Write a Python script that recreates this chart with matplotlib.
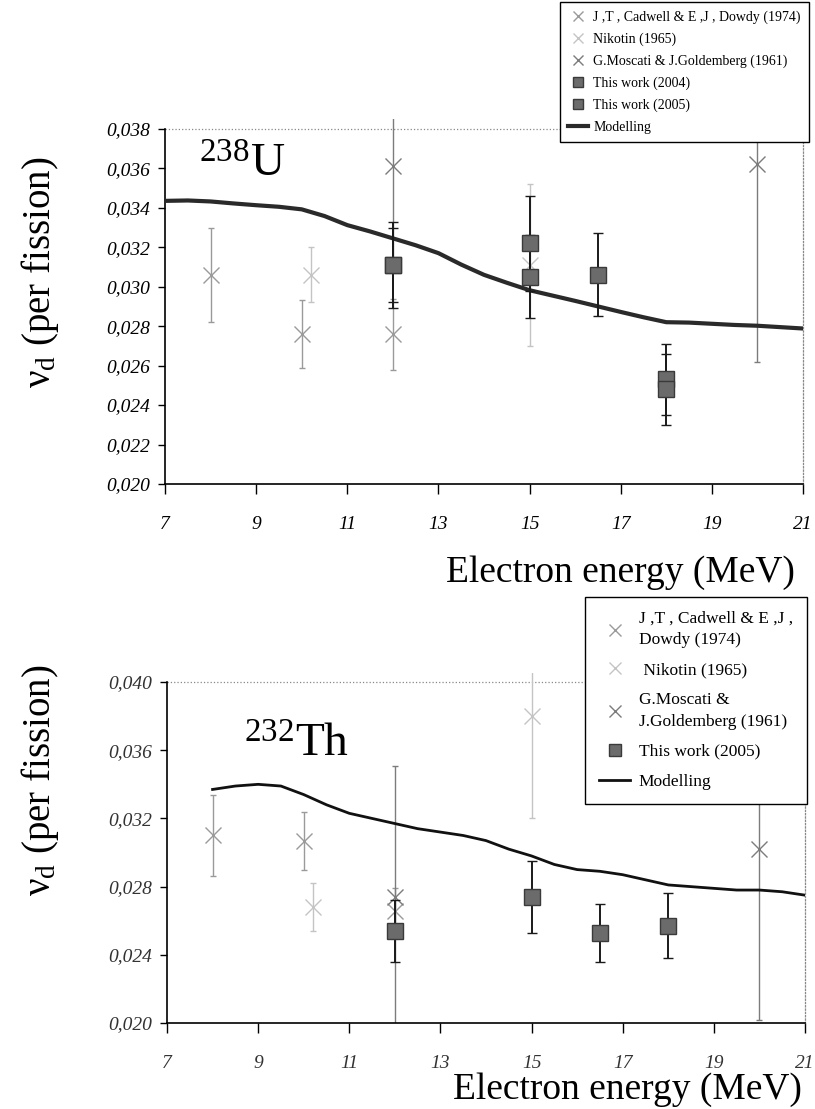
import matplotlib.pyplot as plt

plt.rcParams['font.family'] = ['Liberation Serif', 'DejaVu Serif']
plt.rcParams['mathtext.fontset'] = 'custom'
plt.rcParams['mathtext.rm'] = 'Liberation Serif'
plt.rcParams['mathtext.it'] = 'Liberation Serif:italic'

# ---------- 238U (upper panel) ----------
u_model_e = [7, 7.5, 8, 8.5, 9, 9.5, 10, 10.5, 11, 11.5, 12, 12.5, 13, 13.5, 14,
             14.5, 15, 15.5, 16, 16.5, 17, 17.5, 18, 18.5, 19, 19.5, 20, 20.5, 21]
u_model_v = [0.03435, 0.03437, 0.03432, 0.03422, 0.03413, 0.03405, 0.03392, 0.03358,
             0.03312, 0.03280, 0.03245, 0.03210, 0.03170, 0.03112, 0.03060, 0.03020,
             0.02982, 0.02955, 0.02928, 0.02900, 0.02872, 0.02845, 0.02820, 0.02818,
             0.02812, 0.02806, 0.02802, 0.02795, 0.02788]

u_cad_e = [8, 10, 12]
u_cad_v = [0.0306, 0.0276, 0.0276]
u_cad_err = [0.0024, 0.0017, 0.0018]

u_nik_e = [10.2, 15]
u_nik_v = [0.0306, 0.0311]
u_nik_err = [0.0014, 0.0041]

u_mos_e = [12, 20]
u_mos_v = [0.0361, 0.0362]
u_mos_err = [0.0050, 0.0100]

u_w04_e = [12, 15, 18]
u_w04_v = [0.0311, 0.0322, 0.0253]
u_w04_err = [0.0019, 0.0024, 0.0018]

u_w05_e = [12, 15, 16.5, 18]
u_w05_v = [0.0311, 0.0305, 0.0306, 0.0248]
u_w05_err = [0.0022, 0.0021, 0.0021, 0.0018]

u_labels = ['J ,T , Cadwell & E ,J , Dowdy (1974)', 'Nikotin (1965)',
            'G.Moscati & J.Goldemberg (1961)', 'This work (2004)',
            'This work (2005)', 'Modelling']
u_yticks = [0.020, 0.022, 0.024, 0.026, 0.028, 0.030, 0.032, 0.034, 0.036, 0.038]

# ---------- 232Th (lower panel) ----------
th_model_e = [8, 8.5, 9, 9.5, 10, 10.5, 11, 11.5, 12, 12.5, 13, 13.5, 14, 14.5,
              15, 15.5, 16, 16.5, 17, 17.5, 18, 18.5, 19, 19.5, 20, 20.5, 21]
th_model_v = [0.0337, 0.0339, 0.0340, 0.0339, 0.0334, 0.0328, 0.0323, 0.0320, 0.0317,
              0.0314, 0.0312, 0.0310, 0.0307, 0.0302, 0.0298, 0.0293, 0.0290, 0.0289,
              0.0287, 0.0284, 0.0281, 0.0280, 0.0279, 0.0278, 0.0278, 0.0277, 0.0275]

th_cad_e = [8, 10, 12]
th_cad_v = [0.0310, 0.0307, 0.0266]
th_cad_err = [0.0024, 0.0017, 0.0013]

th_nik_e = [10.2, 15]
th_nik_v = [0.0268, 0.0380]
th_nik_err = [0.0014, 0.0060]

th_mos_e = [12, 20]
th_mos_v = [0.0274, 0.0302]
th_mos_err = [0.0077, 0.0100]

th_w05_e = [12, 15, 16.5, 18]
th_w05_v = [0.0254, 0.0274, 0.0253, 0.0257]
th_w05_err = [0.0018, 0.0021, 0.0017, 0.0019]

th_labels = ['J ,T , Cadwell & E ,J ,\nDowdy (1974)', ' Nikotin (1965)',
             'G.Moscati &\nJ.Goldemberg (1961)', 'This work (2005)', 'Modelling']
th_yticks = [0.020, 0.024, 0.028, 0.032, 0.036, 0.040]

x_ticks = [7, 9, 11, 13, 15, 17, 19, 21]

CAD_COL = '#9a9a9a'
NIK_COL = '#c4c4c4'
MOS_COL = '#7c7c7c'


def fmt(v):
    return f"{v:.3f}".replace('.', ',')


def crosses(ax, e, v, err, col):
    c = ax.errorbar(e, v, yerr=err, fmt='x', ms=11, mew=1.0, color=col,
                    ecolor=col, elinewidth=1.0, capsize=2.5, capthick=1.0, zorder=2)
    return c[0]


def squares(ax, e, v, err):
    c = ax.errorbar(e, v, yerr=err, fmt='s', ms=11, mfc='#6b6b6b', mec='#3a3a3a',
                    mew=1.0, ecolor='#1a1a1a', elinewidth=1.4, capsize=3.5,
                    capthick=1.2, zorder=4)
    return c[0]


def style_axes(ax, yticks, ytop, lab_col):
    ax.set_xlim(7, 21)
    ax.set_ylim(yticks[0], ytop)
    ax.set_xticks(x_ticks)
    ax.set_xticklabels([str(t) for t in x_ticks], fontstyle='italic',
                       fontsize=14, color=lab_col)
    ax.set_yticks(yticks)
    ax.set_yticklabels([fmt(t) for t in yticks], fontstyle='italic',
                       fontsize=14, color=lab_col)
    ax.tick_params(axis='x', direction='out', length=7, width=1, pad=16)
    ax.tick_params(axis='y', direction='out', length=5, width=1, pad=6)
    ax.spines['top'].set_visible(False)
    ax.spines['left'].set_bounds(yticks[0], yticks[-1])
    ax.spines['left'].set_linewidth(1.2)
    ax.spines['bottom'].set_linewidth(1.2)
    ax.spines['right'].set_bounds(yticks[0], yticks[-1])
    ax.spines['right'].set_linestyle(':')
    ax.spines['right'].set_color('#888888')
    ax.spines['right'].set_linewidth(0.9)
    ax.axhline(yticks[-1], color='#888888', ls=':', lw=0.9, zorder=0)


fig = plt.figure(figsize=(8.15, 11.09), dpi=100)
ax1 = fig.add_axes([0.2025, 0.5636, 0.7828, 0.3291])
ax2 = fig.add_axes([0.2049, 0.0775, 0.7828, 0.3152])

# upper panel
h1 = [
    crosses(ax1, u_cad_e, u_cad_v, u_cad_err, CAD_COL),
    crosses(ax1, u_nik_e, u_nik_v, u_nik_err, NIK_COL),
    crosses(ax1, u_mos_e, u_mos_v, u_mos_err, MOS_COL),
    squares(ax1, u_w04_e, u_w04_v, u_w04_err),
    squares(ax1, u_w05_e, u_w05_v, u_w05_err),
]
line1, = ax1.plot(u_model_e, u_model_v, color='#2a2a2a', lw=3.0, zorder=3)
h1.append(line1)
style_axes(ax1, u_yticks, 0.0385, 'black')
ax1.text(7.75, 0.0356, '$^{238}$U', fontsize=34, va='baseline')

fig.legend(h1, u_labels, loc='upper left',
           bbox_to_anchor=(560 / 815, 1 - 2 / 1109), fontsize=10,
           fancybox=False, edgecolor='black', framealpha=1, markerscale=0.7,
           handlelength=1.4, handletextpad=0.4, labelspacing=0.62,
           borderpad=0.6, borderaxespad=0)

# lower panel
h2 = [
    crosses(ax2, th_cad_e, th_cad_v, th_cad_err, CAD_COL),
    crosses(ax2, th_nik_e, th_nik_v, th_nik_err, NIK_COL),
    crosses(ax2, th_mos_e, th_mos_v, th_mos_err, MOS_COL),
    squares(ax2, th_w05_e, th_w05_v, th_w05_err),
]
line2, = ax2.plot(th_model_e, th_model_v, color='#111111', lw=2.0, zorder=3)
h2.append(line2)
style_axes(ax2, th_yticks, 0.0405, '#333333')
ax2.text(8.7, 0.0356, '$^{232}$Th', fontsize=34, va='baseline')

leg2 = fig.legend(h2, th_labels, loc='upper left',
                  bbox_to_anchor=(585 / 815, 1 - 597 / 1109), fontsize=12.5,
                  fancybox=False, edgecolor='black', framealpha=1, markerscale=0.8,
                  handlelength=1.8, handletextpad=0.5, labelspacing=0.8,
                  borderpad=0.8, borderaxespad=0)
for t in leg2.get_texts():
    t.set_linespacing(1.45)

# axis titles
ylab = 'ν$_\\mathrm{d}$ (per fission)'
fig.text(40 / 815, 1 - 272 / 1109, ylab, rotation=90, ha='center', va='center', fontsize=28)
fig.text(40 / 815, 1 - 780 / 1109, ylab, rotation=90, ha='center', va='center', fontsize=28)
fig.text(620 / 815, 1 - 573 / 1109, 'Electron energy (MeV)', ha='center', va='center', fontsize=27)
fig.text(627 / 815, 1 - 1090 / 1109, 'Electron energy (MeV)', ha='center', va='center', fontsize=27)

fig.savefig('out.png', dpi=100)
